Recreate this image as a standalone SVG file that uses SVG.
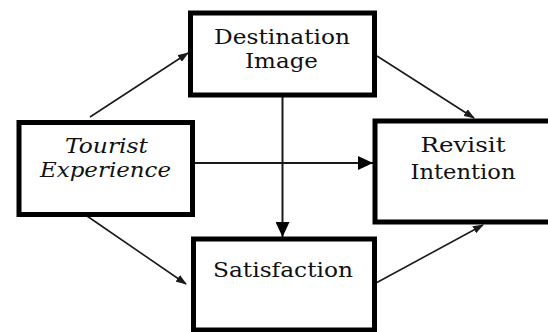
<svg xmlns="http://www.w3.org/2000/svg" width="548" height="332" viewBox="0 0 548 332">
<style>
.box{fill:#fff;stroke:#000;stroke-width:5}
text{font-family:'DejaVu Serif','Liberation Serif',serif;font-size:21px;fill:#111;text-anchor:middle}
.it{font-style:italic}
.c{stroke:#1a1a1a;stroke-width:1.6;fill:none}
.c2{stroke:#1a1a1a;stroke-width:2;fill:none}
</style>
<defs>
<marker id="sm" markerUnits="userSpaceOnUse" markerWidth="11" markerHeight="8" refX="10" refY="4" orient="auto">
<path d="M0,0 L11,4 L0,8 z" fill="#1a1a1a"/>
</marker>
<marker id="lg" markerUnits="userSpaceOnUse" markerWidth="15" markerHeight="14" refX="15" refY="7" orient="auto">
<path d="M0,0 L15,7 L0,14 z" fill="#000"/>
</marker>
</defs>
<rect width="548" height="332" fill="#fff"/>
<g id="connectors">
<line class="c" x1="90" y1="117" x2="188" y2="53" marker-end="url(#sm)"/>
<line class="c" x1="377" y1="56" x2="474" y2="118" marker-end="url(#sm)"/>
<line class="c" x1="87" y1="216" x2="186" y2="284" marker-end="url(#sm)"/>
<line class="c" x1="376" y1="283" x2="483" y2="225" marker-end="url(#sm)"/>
<line class="c2" x1="188" y1="163" x2="373" y2="163" marker-end="url(#lg)"/>
<line class="c2" x1="282.5" y1="95" x2="282.5" y2="237" marker-end="url(#lg)"/>
</g>
<g id="destination-image">
<rect class="box" x="190.5" y="13" width="184" height="82"/>
<text x="282" y="44" textLength="136" lengthAdjust="spacingAndGlyphs">Destination</text>
<text x="281.5" y="68" textLength="73" lengthAdjust="spacingAndGlyphs">Image</text>
</g>
<g id="tourist-experience">
<rect class="box" x="19" y="122.5" width="173.5" height="92"/>
<text class="it" x="106.5" y="153" textLength="83" lengthAdjust="spacingAndGlyphs">Tourist</text>
<text class="it" x="105.5" y="177" textLength="131" lengthAdjust="spacingAndGlyphs">Experience</text>
</g>
<g id="revisit-intention">
<rect class="box" x="375" y="121" width="200" height="101"/>
<text x="463" y="152" textLength="85" lengthAdjust="spacingAndGlyphs">Revisit</text>
<text x="463" y="179" textLength="105" lengthAdjust="spacingAndGlyphs">Intention</text>
</g>
<g id="satisfaction">
<rect class="box" x="193.5" y="239" width="181" height="91"/>
<text x="283" y="277" textLength="140" lengthAdjust="spacingAndGlyphs">Satisfaction</text>
</g>
</svg>
